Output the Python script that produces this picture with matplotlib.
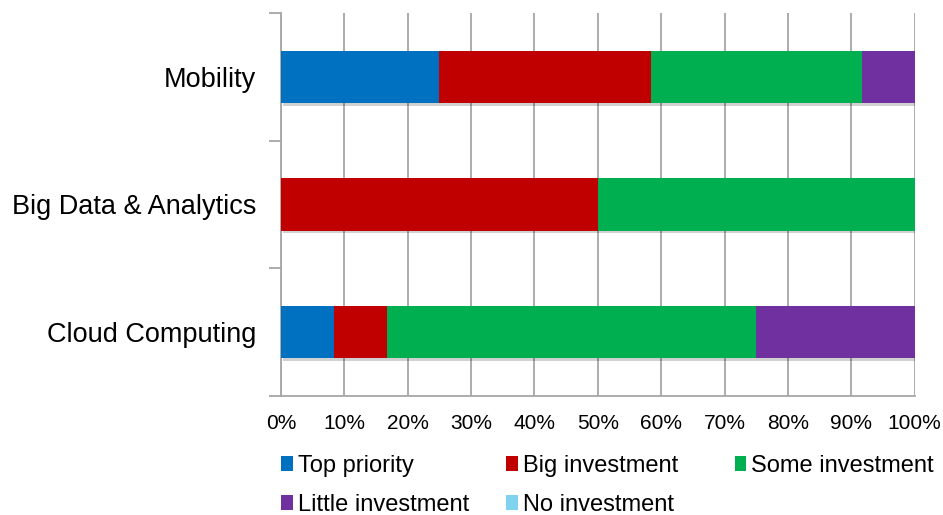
import numpy as np
import matplotlib.pyplot as plt
from matplotlib.patches import Patch
from matplotlib import patheffects as pe

plt.rcParams['font.family'] = ['Liberation Sans', 'DejaVu Sans']

# categories, bottom to top
categories = ['Cloud Computing', 'Big Data & Analytics', 'Mobility']
series = ['Top priority', 'Big investment', 'Some investment',
          'Little investment', 'No investment']
colors = ['#0070c0', '#c00000', '#00b050', '#7030a0', '#7fd3ef']

top_priority = [8.33, 0.0, 25.0]
big_investment = [8.33, 50.0, 33.33]
some_investment = [58.33, 50.0, 33.33]
little_investment = [25.0, 0.0, 8.34]
no_investment = [0.0, 0.0, 0.0]
values = [top_priority, big_investment, some_investment,
          little_investment, no_investment]

fig = plt.figure(figsize=(9.43, 5.15), dpi=100)
ax = fig.add_axes([0.298, 0.231, 0.672, 0.744])

y = np.arange(len(categories))
left = np.zeros(len(categories))
shadow = [pe.SimplePatchShadow(offset=(1.5, -2), shadow_rgbFace='#000000', alpha=0.18),
          pe.Normal()]
for name, vals, col in zip(series, values, colors):
    vals = np.array(vals)
    bars = ax.barh(y, vals, left=left, height=0.41, color=col, label=name, zorder=3)
    for b in bars:
        b.set_path_effects(shadow)
    left += vals

ax.set_xlim(0, 100)
ax.set_ylim(-0.5, len(categories) - 0.5)
ax.set_xticks(np.arange(0, 101, 10))
ax.set_xticklabels([f'{v}%' for v in range(0, 101, 10)], fontsize=15)
ax.tick_params(axis='x', length=0, pad=13)
ax.xaxis.grid(True, color='#a6a6a6', linewidth=1.3, zorder=0)

# category boundaries as tick marks, names centred between them
ax.set_yticks(np.arange(-0.5, len(categories), 1.0))
ax.set_yticklabels([])
ax.tick_params(axis='y', which='major', length=9, width=1.3, color='#a6a6a6')
ax.set_yticks(y, minor=True)
ax.set_yticklabels(categories, minor=True, fontsize=19.5)
ax.tick_params(axis='y', which='minor', length=0, pad=18)

for s in ['top', 'right']:
    ax.spines[s].set_visible(False)
for s in ['left', 'bottom']:
    ax.spines[s].set_color('#a6a6a6')
    ax.spines[s].set_linewidth(1.3)

# legend laid out row by row in three fixed columns
handles = [Patch(facecolor=c, label=n) for n, c in zip(series, colors)]
columns = [[0, 3], [1, 4], [2]]
col_x = [0.298, 0.537, 0.779]
for cx, idx in zip(col_x, columns):
    fig.legend([handles[i] for i in idx], [series[i] for i in idx],
               loc='upper left', bbox_to_anchor=(cx, 0.116),
               frameon=False, fontsize=17, handlelength=0.5, handleheight=0.6,
               handletextpad=0.2, labelspacing=0.72,
               borderaxespad=0, borderpad=0)

fig.savefig('out.png', dpi=100)
